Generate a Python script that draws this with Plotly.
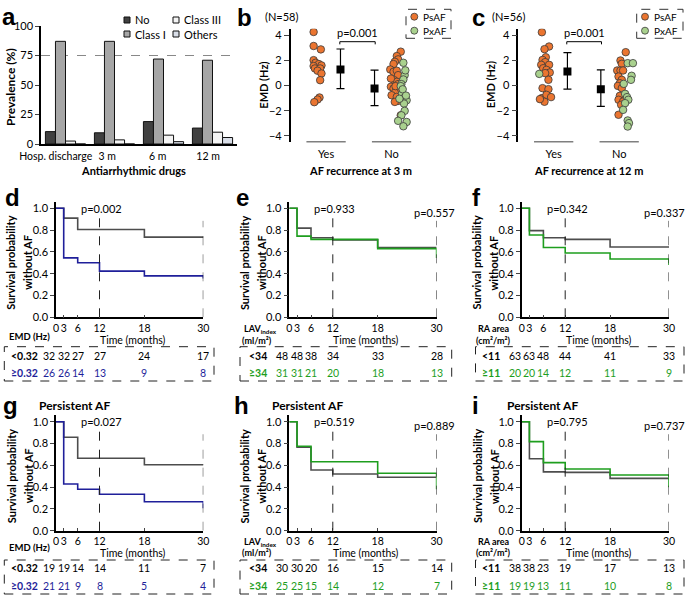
import plotly.graph_objects as go

W, H = 685, 595
def PX(x): return x / W
def PY(y): return 1 - y / H

FONT = "Lato"
LFONT = "Liberation Sans"

# ---------------- Panel a data ----------------
AAD_TIMES = ["Hosp. discharge", "3 m", "6 m", "12 m"]
AAD_NO = [10.5, 9.5, 19, 13.5]
AAD_CLASS_I = [87, 87, 72, 71]
AAD_CLASS_III = [2.5, 3.5, 7.5, 10]
AAD_OTHERS = [0, 0, 2, 5.5]
AAD_NAMES = ["No", "Class I", "Class III", "Others"]
AAD_COLORS = ["#404040", "#a6a6a6", "#f4f4f4", "#d9dee8"]
AAD_LABEL_SHIFT = [-0.2, -0.15, -0.12, -0.09]   # label offsets from group centres (layout)

# ---------------- Panel b data (AF recurrence at 3 m) ----------------
B_YES_X = [0.81, 0.81, 0.92, 0.81, 0.84, 0.89, 0.81, 0.93, 0.83, 0.91, 0.87, 0.93, 0.91, 0.90, 0.87, 0.82]
B_YES_Y = [4.24, 3.13, 2.86, 2.01, 1.80, 1.70, 1.54, 1.59, 1.35, 1.35, 1.17, 0.95, 0.42, -0.95, -1.11, -1.32]
B_NO_PS_X = [2.14, 2.08, 2.10, 2.05, 2.03, 1.98, 2.03, 2.08, 2.10, 2.04, 2.08, 2.10, 1.99, 2.03, 2.08, 2.11, 2.05, 2.00, 2.08, 2.10, 2.05, 2.14, 1.99, 2.06]
B_NO_PS_Y = [2.68, 2.33, 2.07, 1.88, 1.70, 1.27, 1.09, 1.17, 0.82, 0.42, 0.29, 0.11, -0.10, -0.24, -0.32, -0.37, -0.58, -0.77, -0.90, -1.22, -1.30, -2.36, 0.55, -0.05]
B_NO_PX_X = [2.18, 2.20, 2.18, 2.15, 2.14, 2.16, 2.20, 2.23, 2.19, 2.20, 2.15, 2.10, 2.23, 2.18, 2.21, 2.17, 2.22, 2.12]
B_NO_PX_Y = [1.80, 0.82, 0.48, 0.11, -0.05, -0.64, -0.95, -1.17, -1.43, -2.01, -2.36, -2.80, -2.89, -3.23, 1.20, -0.30, -0.80, -1.05]
B_MEAN_X = [1.22, 1.74]
B_MEAN = [1.27, -0.24]
B_SD_UP = [1.62, 1.46]
B_SD_DN = [1.51, 1.35]

# ---------------- Panel c data (AF recurrence at 12 m) ----------------
C_YES_PS_X = [0.82, 0.93, 0.86, 0.88, 0.83, 0.87, 0.93, 0.81, 0.84, 0.89, 0.94, 0.87, 0.92, 0.83, 0.92, 0.82, 0.89, 0.96, 0.86, 0.79]
C_YES_PS_Y = [4.22, 3.09, 2.88, 2.24, 2.03, 1.85, 1.64, 1.64, 1.37, 1.24, 1.03, 0.98, 0.45, -0.21, -0.29, -1.00, -0.74, -0.92, -1.29, -1.08]
C_YES_PX_X = [0.78]
C_YES_PX_Y = [0.92]
C_NO_PS_X = [2.10, 2.02, 2.04, 1.97, 2.02, 2.06, 1.99, 2.04, 2.01, 1.98, 2.04, 2.01, 1.99, 2.06, 2.03, 1.99]
C_NO_PS_Y = [2.64, 1.98, 1.72, 1.19, 1.19, 1.19, 0.71, 0.45, 0.18, -0.03, -0.21, -0.82, -1.13, -1.27, -1.53, -2.32]
C_NO_PX_X = [2.13, 2.21, 2.19, 2.18, 2.07, 2.09, 2.12, 2.14, 2.09, 2.06, 2.13, 2.15, 2.13]
C_NO_PX_Y = [1.77, 1.77, 0.77, 0.45, 0.13, -0.66, -0.92, -1.13, -1.40, -1.93, -2.77, -2.98, -3.25]
C_MEAN_X = [1.21, 1.72]
C_MEAN = [1.11, -0.29]
C_SD_UP = [1.50, 1.53]
C_SD_DN = [1.40, 1.37]

ORANGE = "#EB7530"
LGREEN = "#A9D18E"

# ---------------- Kaplan-Meier data ----------------
KM_TIMES = [0, 3, 6, 12, 18, 30]
KM_TICK_POS = [0, 1.57, 4.42, 8.86, 18.0, 30]   # axis positions of the time ticks

KM = [
    dict(letter="d", title=None, var=["EMD (Hz)"], low_lab="<0.32", high_lab="≥0.32", hcol="#1f1f9a",
         low=[1.0, 0.91, 0.806, 0.806, 0.736, 0.73], high=[1.0, 0.545, 0.50, 0.424, 0.38, 0.355],
         n_low=[32, 32, 27, 27, 24, 17], n_high=[26, 26, 14, 13, 9, 8], p=["p=0.002", "p=0.003"]),
    dict(letter="e", title=None, var=["LAV<sub>index</sub>", "(ml/m²)"], low_lab="<34", high_lab="≥34", hcol="#1e9e1e",
         low=[1.0, 0.818, 0.73, 0.71, 0.64, 0.64], high=[1.0, 0.745, 0.715, 0.715, 0.63, 0.545],
         n_low=[48, 48, 38, 34, 33, 28], n_high=[31, 31, 21, 20, 18, 13], p=["p=0.933", "p=0.557"]),
    dict(letter="f", title=None, var=["RA area", "(cm²/m²)"], low_lab="<11", high_lab="≥11", hcol="#1e9e1e",
         low=[1.0, 0.795, 0.73, 0.715, 0.645, 0.64], high=[1.0, 0.755, 0.64, 0.59, 0.535, 0.48],
         n_low=[63, 63, 48, 44, 41, 33], n_high=[20, 20, 14, 12, 11, 9], p=["p=0.342", "p=0.337"]),
    dict(letter="g", title="Persistent AF", var=["EMD (Hz)"], low_lab="<0.32", high_lab="≥0.32", hcol="#1f1f9a",
         low=[1.0, 0.857, 0.664, 0.664, 0.605, 0.60], high=[1.0, 0.428, 0.38, 0.334, 0.266, 0.205],
         n_low=[19, 19, 14, 14, 11, 7], n_high=[21, 21, 9, 8, 5, 4], p=["p=0.027", "p=0.021"]),
    dict(letter="h", title="Persistent AF", var=["LAV<sub>index</sub>", "(ml/m²)"], low_lab="<34", high_lab="≥34", hcol="#1e9e1e",
         low=[1.0, 0.765, 0.557, 0.52, 0.49, 0.49], high=[1.0, 0.775, 0.633, 0.633, 0.527, 0.38],
         n_low=[30, 30, 20, 16, 15, 14], n_high=[25, 25, 15, 14, 12, 7], p=["p=0.519", "p=0.889"]),
    dict(letter="i", title="Persistent AF", var=["RA area", "(cm²/m²)"], low_lab="<11", high_lab="≥11", hcol="#1e9e1e",
         low=[1.0, 0.66, 0.54, 0.535, 0.48, 0.47], high=[1.0, 0.817, 0.625, 0.566, 0.511, 0.398],
         n_low=[38, 38, 23, 19, 17, 13], n_high=[19, 19, 13, 11, 10, 8], p=["p=0.795", "p=0.737"]),
]
GRAY_LINE = "#4d4d4d"

fig = go.Figure()
annotations = []
shapes = []

def ann(x, y, text, size=11, bold=False, color="black", xa="center", ya="middle", angle=0, family=FONT):
    t = f"<b>{text}</b>" if bold else text
    annotations.append(dict(x=PX(x), y=PY(y), xref="paper", yref="paper", text=t, showarrow=False,
                            xanchor=xa, yanchor=ya, textangle=angle,
                            font=dict(family=family, size=size, color=color)))

def letter(x, y, t):
    ann(x, y, t, size=24, bold=True, xa="left", ya="middle", family=LFONT)

layout = dict(width=W, height=H, autosize=False, margin=dict(l=0, r=0, t=0, b=0, pad=0), paper_bgcolor="white",
              plot_bgcolor="rgba(0,0,0,0)", showlegend=False, barmode="group",
              bargap=0.18, bargroupgap=0,
              font=dict(family=FONT, size=11, color="black"))

# ---------------- Panel a ----------------
vals = [AAD_NO, AAD_CLASS_I, AAD_CLASS_III, AAD_OTHERS]
for name, v, col in zip(AAD_NAMES, vals, AAD_COLORS):
    fig.add_trace(go.Bar(x=list(range(len(AAD_TIMES))), y=v, name=name, marker=dict(color=col, line=dict(color="#111", width=1)),
                         xaxis="x", yaxis="y"))
layout["xaxis"] = dict(domain=[PX(41), PX(237)], range=[-0.5, 3.5], showline=True, linecolor="black", linewidth=1.5,
                       tickvals=[i + s for i, s in enumerate(AAD_LABEL_SHIFT)], ticktext=AAD_TIMES, ticks="",
                       tickangle=0, showgrid=False, zeroline=False, tickfont=dict(size=10.5), ticklabelstandoff=2,
                       automargin=False)
layout["yaxis"] = dict(domain=[PY(144), PY(26)], range=[0, 100], showline=True, linecolor="black", linewidth=1.5,
                       tickvals=[0, 25, 50, 75, 100], ticks="outside", ticklen=4, showgrid=False, zeroline=False,
                       tickfont=dict(size=11), anchor="x", automargin=False)
shapes.append(dict(type="line", xref="x", yref="y", x0=-0.5, x1=3.5, y0=75, y1=75, layer="below",
                   line=dict(color="#888", width=1, dash="dash")))
letter(0, 16, "a")
ann(10, 87, "Prevalence (%)", size=12, bold=True, angle=-90)
ann(133, 170, "Antiarrhythmic drugs", size=11, bold=True)
leg_items = [(124, 20, 0), (173, 20, 2), (124, 34, 1), (173, 34, 3)]
for lx, ly, k in leg_items:
    shapes.append(dict(type="rect", xref="paper", yref="paper", x0=PX(lx), x1=PX(lx + 6), y0=PY(ly + 3), y1=PY(ly - 3),
                       fillcolor=AAD_COLORS[k], line=dict(color="#111", width=1)))
    ann(lx + 9, ly, AAD_NAMES[k], size=11, xa="left")

# ---------------- Panels b, c ----------------
def dot_panel(ax, x0px, yes_sets, no_sets, mx, mean, up, dn, nlab, title, lett, letx, nx):
    axn = str(ax)
    x1px = W if ax == 3 else 452
    xr = [0.46, 0.46 + (x1px - x0px) / 65.5]
    for xs, ys, col in yes_sets + no_sets:
        fig.add_trace(go.Scatter(x=xs, y=ys, mode="markers", xaxis="x" + axn, yaxis="y" + axn,
                                 marker=dict(color=col, size=7.5, line=dict(color="#3a3a3a", width=0.8))))
    fig.add_trace(go.Scatter(x=mx, y=mean, mode="markers", xaxis="x" + axn, yaxis="y" + axn,
                             marker=dict(color="black", size=8, symbol="square"),
                             error_y=dict(type="data", symmetric=False, array=up, arrayminus=dn,
                                          color="black", thickness=1.2, width=4)))
    layout["xaxis" + axn] = dict(domain=[PX(x0px), PX(x1px)], range=xr, showline=False, showgrid=False, zeroline=False,
                                 tickvals=[1, 2], ticktext=["Yes", "No"], ticks="", tickfont=dict(size=11),
                                 tickangle=0, anchor="y" + axn, ticklabelstandoff=4, automargin=False)
    layout["yaxis" + axn] = dict(domain=[PY(142.3), PY(28.7)], range=[-4.5, 4.5], showline=True, linecolor="black",
                                 linewidth=1.5, tickvals=[-4, -2, 0, 2, 4], ticks="outside", ticklen=5,
                                 showgrid=False, zeroline=False, tickfont=dict(size=11), anchor="x" + axn,
                                 automargin=False)
    for c in [1, 2]:
        shapes.append(dict(type="line", xref="x" + axn, yref="y" + axn, x0=c - 0.3, x1=c + 0.3, y0=-4.5, y1=-4.5,
                           line=dict(color="black", width=1.5)))
    shapes.append(dict(type="path", xref="x" + axn, yref="y" + axn,
                       path=f"M {mx[0]-0.01},3.26 L {mx[0]-0.01},3.47 L {mx[1]+0.01},3.47 L {mx[1]+0.01},3.26",
                       line=dict(color="black", width=1)))
    annotations.append(dict(x=(mx[0] + mx[1]) / 2, y=4.18, xref="x" + axn, yref="y" + axn, text="p=0.001",
                            showarrow=False, xanchor="center", yanchor="middle", font=dict(size=11, family=FONT)))
    letter(letx, 17, lett)
    ann(nx, 16.7, nlab, size=11)
    ann(x0px - 27, 85, "EMD (Hz)", size=11, bold=True, angle=-90)
    ann((x0px + 70.3), 170, title, size=11, bold=True)

dot_panel(2, 290.7,
          [(B_YES_X, B_YES_Y, ORANGE)],
          [(B_NO_PS_X, B_NO_PS_Y, ORANGE), (B_NO_PX_X, B_NO_PX_Y, LGREEN)],
          B_MEAN_X, B_MEAN, B_SD_UP, B_SD_DN, "(N=58)", "AF recurrence at 3 m", "b", 235, 281.7)
dot_panel(3, 518.3,
          [(C_YES_PS_X, C_YES_PS_Y, ORANGE), (C_YES_PX_X, C_YES_PX_Y, LGREEN)],
          [(C_NO_PS_X, C_NO_PS_Y, ORANGE), (C_NO_PX_X, C_NO_PX_Y, LGREEN)],
          C_MEAN_X, C_MEAN, C_SD_UP, C_SD_DN, "(N=56)", "AF recurrence at 12 m", "c", 470, 508.3)

for bx0, bx1, mxp in [(406, 451, 414.3), (636.7, 683, 645)]:
    shapes.append(dict(type="rect", xref="paper", yref="paper", x0=PX(bx0), x1=PX(bx1), y0=PY(38.3), y1=PY(9.3),
                       line=dict(color="#333", width=1, dash="dash")))
    for yy, col, lab in [(16.7, ORANGE, "PsAF"), (30.7, LGREEN, "PxAF")]:
        shapes.append(dict(type="circle", xref="paper", yref="paper", x0=PX(mxp - 3.5), x1=PX(mxp + 3.5),
                           y0=PY(yy + 3.5), y1=PY(yy - 3.5), fillcolor=col, line=dict(color="#3a3a3a", width=0.8)))
        ann(mxp + 7, yy, lab, size=10, xa="left")

# ---------------- KM panels ----------------
COLS_PX = [56, 289.3, 521.7]
ROWS = [dict(y0=317.3, time=339.5, var1=328.5, var2=340, var_single=336,
             box=(346.7, 381), r1=355.7, r2=373.3, title=None, lett=198),
        dict(y0=530.7, time=552.5, var1=541.5, var2=552.5, var_single=547.3,
             box=(560, 594), r1=568.3, r2=585.7, title=405, lett=405)]
BOX_X = [(4.3, 214), (240, 451.7), (475.5, 684)]
LAB_X = [9.3, 246.7, 480]
VAR_X = [7, 241.7, 476]
LETTER_X = [[3, 234, 470], [1, 232, 470]]
TITLE_X = [36.7, 270, 505]
P30_X = [30.1, 29.6, 29.0]
SPAN = 147.3

for k, p in enumerate(KM):
    r, c = divmod(k, 3)
    row = ROWS[r]
    axn = str(4 + k)
    x0 = COLS_PX[c]
    y0 = row["y0"]
    for surv, col in [(p["low"], GRAY_LINE), (p["high"], p["hcol"])]:
        fig.add_trace(go.Scatter(x=KM_TICK_POS, y=surv, mode="lines", line=dict(color=col, width=1.6, shape="hv"),
                                 xaxis="x" + axn, yaxis="y" + axn))
    layout["xaxis" + axn] = dict(domain=[PX(x0), PX(x0 + SPAN)], range=[0, 30], showline=True, linecolor="black",
                                 linewidth=1.5, tickvals=KM_TICK_POS, ticktext=[str(t) for t in KM_TIMES],
                                 ticks="inside", ticklen=3, tickangle=0, showgrid=False, zeroline=False,
                                 tickfont=dict(size=10.5), anchor="y" + axn, ticklabelstandoff=0, automargin=False)
    layout["yaxis" + axn] = dict(domain=[PY(y0), PY(y0 - 1.06 * 109)], range=[0, 1.06], showline=True,
                                 linecolor="black", linewidth=1.5, tickvals=[0, 0.2, 0.4, 0.6, 0.8, 1.0],
                                 tickformat=".1f", ticks="outside", ticklen=4, showgrid=False, zeroline=False,
                                 tickfont=dict(size=11), anchor="x" + axn, automargin=False)
    for xv, top in [(KM_TICK_POS[3], 0.91), (KM_TICK_POS[5], 0.885)]:
        shapes.append(dict(type="line", xref="x" + axn, yref="y" + axn, x0=xv, x1=xv, y0=0, y1=top,
                           line=dict(color="#222", width=1, dash="dash")))
    annotations.append(dict(x=9.3, y=1.0, xref="x" + axn, yref="y" + axn, text=p["p"][0], showarrow=False,
                            xanchor="center", yanchor="middle", font=dict(size=11, family=FONT)))
    annotations.append(dict(x=P30_X[c], y=0.965, xref="x" + axn, yref="y" + axn, text=p["p"][1], showarrow=False,
                            xanchor="center", yanchor="middle", font=dict(size=11, family=FONT)))
    ann(x0 - 45, y0 - 54.5, "Survival probability", size=11, bold=True, angle=-90)
    ann(x0 - 28, y0 - 54.5, "without AF", size=11, bold=True, angle=-90)
    ann(x0 + 77, row["time"], "Time (months)", size=10.5)
    if len(p["var"]) == 1:
        ann(VAR_X[c], row["var_single"], p["var"][0], size=9.5, bold=True, xa="left")
    else:
        ann(VAR_X[c], row["var1"], p["var"][0], size=9, bold=True, xa="left")
        ann(VAR_X[c] - 2, row["var2"], p["var"][1], size=9, bold=True, xa="left")
    bx0, bx1 = BOX_X[c]
    shapes.append(dict(type="rect", xref="paper", yref="paper", x0=PX(bx0), x1=PX(bx1),
                       y0=PY(row["box"][1]), y1=PY(row["box"][0]), line=dict(color="#222", width=1, dash="dash")))
    ann(LAB_X[c], row["r1"], p["low_lab"], size=10.5, bold=True, xa="left")
    ann(LAB_X[c], row["r2"], p["high_lab"], size=10.5, bold=True, xa="left", color=p["hcol"])
    for j, (nl, nh) in enumerate(zip(p["n_low"], p["n_high"])):
        for nv, yy, col in [(nl, row["r1"], "black"), (nh, row["r2"], p["hcol"])]:
            annotations.append(dict(x=KM_TICK_POS[j], y=PY(yy), xref="x" + axn, yref="paper", text=str(nv),
                                    showarrow=False, xshift=-7 if j == 0 else 0, xanchor="center", yanchor="middle",
                                    font=dict(size=10.5, family=FONT, color=col)))
    letter(LETTER_X[r][c], row["lett"], p["letter"])
    if p["title"]:
        ann(TITLE_X[c], row["title"], p["title"], size=12, bold=True, xa="left")

layout["annotations"] = annotations
layout["shapes"] = shapes
fig.update_layout(**layout)
fig.write_html("out.html", config={"displayModeBar": False},
               post_script="document.body.style.margin='0';")
